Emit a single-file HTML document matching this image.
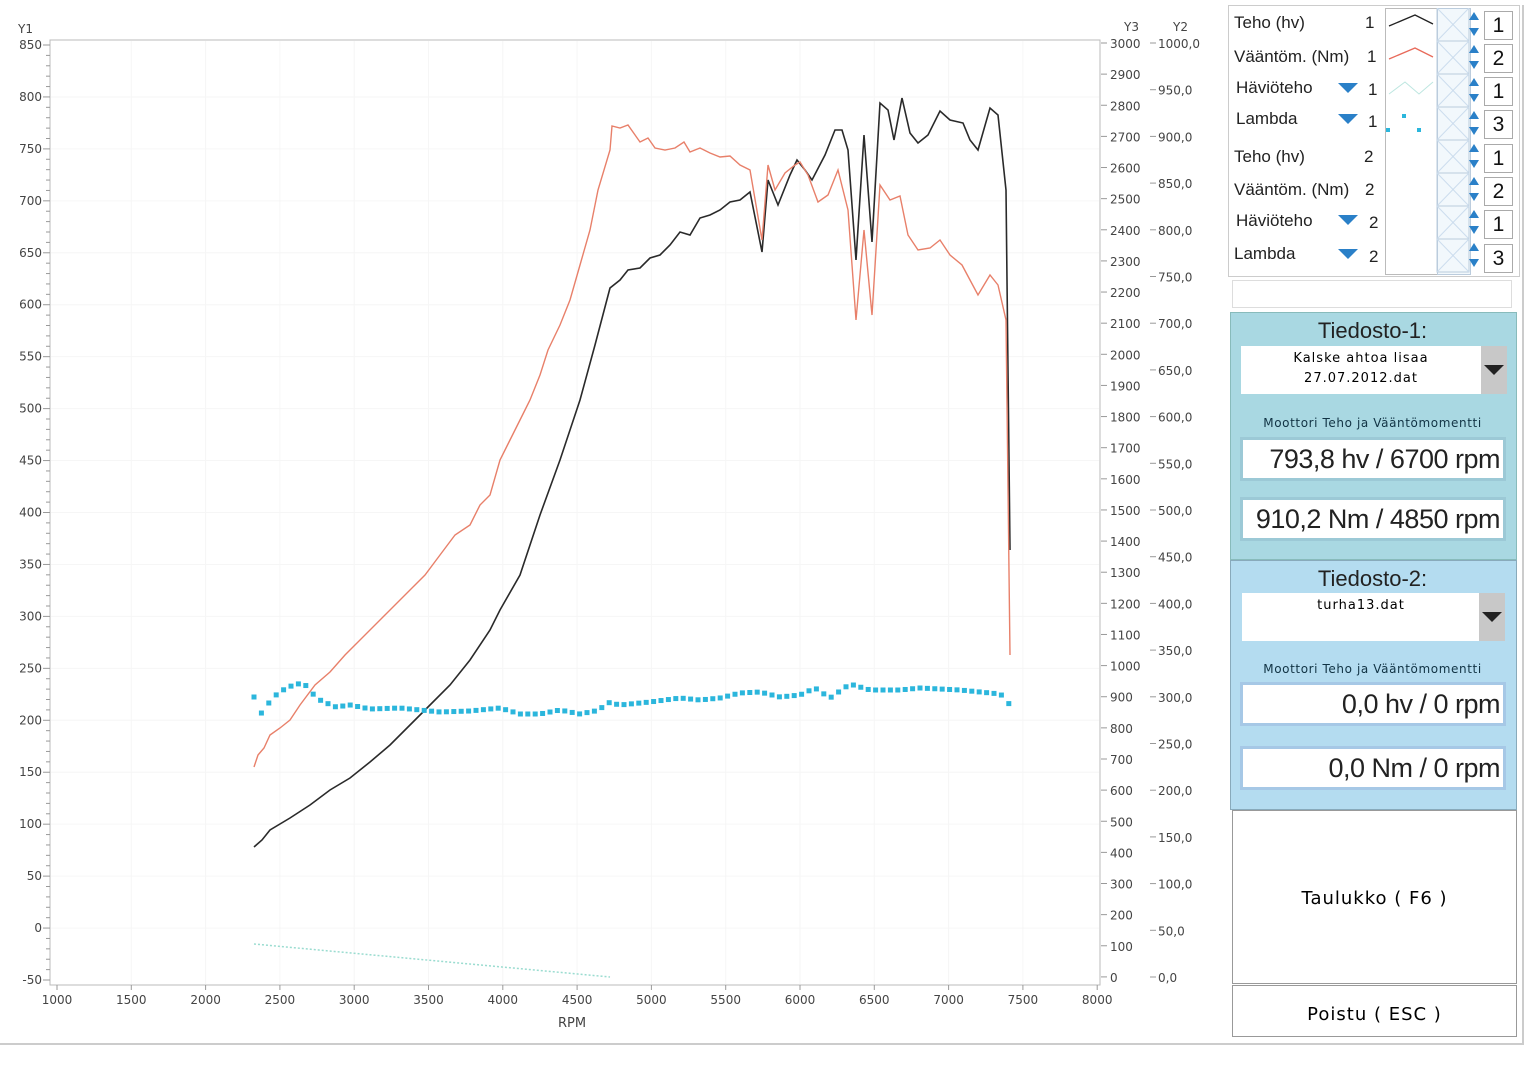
<!DOCTYPE html>
<html><head><meta charset="utf-8"><style>
body{margin:0;width:1540px;height:1080px;background:#fff;position:relative;overflow:hidden;font-family:"DejaVu Sans","Liberation Sans",sans-serif}
.a{position:absolute}
.lg{font-family:"Liberation Sans",sans-serif;font-size:17px;color:#222}
.box{position:absolute;background:#fff;border:1px solid #bbb}
.num{position:absolute;left:1484px;width:27px;height:27px;border:1px solid #aaa;background:#fff;font:21px "Liberation Sans",sans-serif;text-align:center;line-height:27px;color:#111}
.big{position:absolute;background:#fff;font:27px "Liberation Sans",sans-serif;letter-spacing:-0.5px;white-space:nowrap;overflow:hidden;text-align:right;color:#222;box-shadow:inset 0 0 0 3px #9cc9d6}
</style></head><body>
<svg class="a" style="left:0;top:0" width="1230" height="1040" id="s">
<rect x="50" y="40" width="1050" height="945" fill="#fff" stroke="#bbb"/>
<g id="g"></g>
<text x="18" y="33" font-size="12" fill="#444" font-family="DejaVu Sans">Y1</text>
<text x="1124" y="31" font-size="12" fill="#444" font-family="DejaVu Sans">Y3</text>
<text x="1173" y="31" font-size="12" fill="#444" font-family="DejaVu Sans">Y2</text>
<text x="558" y="1027" font-size="13" fill="#444" font-family="DejaVu Sans">RPM</text>
<polyline fill="none" stroke="#2a2a2a" stroke-width="1.6" points="254,847 262,840 270,830 290,818 310,805 330,790 350,778 370,762 390,745 410,725 430,705 450,685 470,660 490,630 500,610 520,575 540,515 560,460 580,400 595,345 610,288 620,280 628,270 640,268 650,258 660,255 670,245 680,232 690,235 700,218 710,215 720,210 730,202 740,200 750,192 762,252 768,180 778,205 790,175 797,160 805,170 812,180 825,155 835,130 842,130 848,150 856,260 864,135 872,242 880,103 888,110 894,140 902,98 910,133 918,143 928,135 940,111 950,120 963,123 970,140 978,150 990,108 998,115 1006,190 1010,550"/>
<polyline fill="none" stroke="#e8806a" stroke-width="1.4" points="254,767 258,755 264,748 270,735 280,728 290,720 300,705 315,685 330,672 345,655 360,640 375,625 390,610 410,590 425,575 440,555 455,535 470,525 480,505 490,495 500,460 510,440 520,420 530,400 540,375 548,350 560,325 570,300 580,265 590,230 598,190 610,150 612,126 620,128 628,125 640,142 648,138 655,148 665,150 675,148 684,142 690,152 700,148 710,153 720,157 730,156 740,165 750,170 762,240 768,165 775,190 785,173 795,165 800,162 808,175 818,202 828,195 838,170 848,210 856,320 864,230 872,315 880,185 890,200 900,196 908,235 918,250 930,248 940,240 950,255 962,265 970,280 978,295 990,275 998,285 1006,320 1010,655"/>
<g id="lam" fill="#2bb6dc"></g>
</svg>
<div class="a" style="left:1228px;top:5px;width:290px;height:270px;border:1px solid #ccc;background:#fff"></div>
<div class="a" style="left:1385px;top:8px;width:52px;height:265px;border:1px solid #bbb"></div>
<div class="a" style="left:1437px;top:8px;width:32px;height:265px;background:#f2f8fc;border:1px solid #bcd"></div>
<svg class="a" style="left:1385px;top:8px" width="100" height="265">
<polyline points="4,18 30,7 48,16" fill="none" stroke="#222" stroke-width="1.3"/>
<polyline points="4,51 30,40 48,49" fill="none" stroke="#e86a5a" stroke-width="1.3"/>
<polyline points="4,86 20,74 34,86 48,74" fill="none" stroke="#bde6e0" stroke-width="1"/>
<rect x="1" y="120" width="4" height="4" fill="#2bb6dc"/><rect x="17" y="106" width="4" height="4" fill="#2bb6dc"/><rect x="32" y="120" width="4" height="4" fill="#2bb6dc"/>
<g stroke="#cde" stroke-width="1" fill="none" id="xs"></g>
</svg>
<div class="lg a" style="left:1234px;top:13px">Teho (hv)</div><div class="lg a" style="left:1365px;top:13px">1</div>
<div class="lg a" style="left:1234px;top:47px">Vääntöm. (Nm)</div><div class="lg a" style="left:1367px;top:47px">1</div>
<div class="lg a" style="left:1236px;top:78px">Häviöteho</div><div class="lg a" style="left:1368px;top:80px">1</div>
<div class="lg a" style="left:1236px;top:109px">Lambda</div><div class="lg a" style="left:1368px;top:112px">1</div>
<div class="lg a" style="left:1234px;top:147px">Teho (hv)</div><div class="lg a" style="left:1364px;top:147px">2</div>
<div class="lg a" style="left:1234px;top:180px">Vääntöm. (Nm)</div><div class="lg a" style="left:1365px;top:180px">2</div>
<div class="lg a" style="left:1236px;top:211px">Häviöteho</div><div class="lg a" style="left:1369px;top:213px">2</div>
<div class="lg a" style="left:1234px;top:244px">Lambda</div><div class="lg a" style="left:1369px;top:247px">2</div>
<svg class="a" style="left:1336px;top:80px" width="24" height="190" fill="#2a80c8">
<polygon points="2,3 22,3 12,13"/><polygon points="2,34 22,34 12,44"/><polygon points="2,135 22,135 12,145"/><polygon points="2,169 22,169 12,179"/></svg>
<div class="num" style="top:11px">1</div><div class="num" style="top:44px">2</div><div class="num" style="top:77px">1</div><div class="num" style="top:110px">3</div>
<div class="num" style="top:144px">1</div><div class="num" style="top:177px">2</div><div class="num" style="top:210px">1</div><div class="num" style="top:244px">3</div>
<div class="box" style="left:1232px;top:280px;width:278px;height:26px;border-color:#ddd"></div>
<div class="a" style="left:1230px;top:312px;width:285px;height:246px;background:#a9d8e2;border:1px solid #8bb"></div>
<div class="a lg" style="left:1230px;top:318px;width:285px;text-align:center;font-size:22px">Tiedosto-1:</div>
<div class="box" style="left:1241px;top:346px;width:240px;height:48px;text-align:center;font-size:13px;line-height:20px;padding-top:3px;box-sizing:border-box;border:none;letter-spacing:1px">Kalske ahtoa lisaa<br>27.07.2012.dat</div>
<div class="a" style="left:1481px;top:346px;width:26px;height:48px;background:#c8c8c8"></div>
<svg class="a" style="left:1483px;top:364px" width="22" height="12"><polygon points="1,1 21,1 11,11" fill="#222"/></svg>
<div class="a" style="left:1230px;top:416px;width:285px;text-align:center;font-size:12px;color:#134;letter-spacing:.6px">Moottori Teho ja Vääntömomentti</div>
<div class="big" style="left:1240px;top:437px;width:266px;height:44px;line-height:44px;padding-right:6px;box-sizing:border-box">793,8 hv / 6700 rpm</div>
<div class="big" style="left:1240px;top:497px;width:266px;height:44px;line-height:44px;padding-right:6px;box-sizing:border-box">910,2 Nm / 4850 rpm</div>
<div class="a" style="left:1230px;top:560px;width:285px;height:248px;background:#b4dcf0;border:1px solid #8ab"></div>
<div class="a lg" style="left:1230px;top:566px;width:285px;text-align:center;font-size:22px">Tiedosto-2:</div>
<div class="box" style="left:1242px;top:593px;width:238px;height:48px;text-align:center;font-size:13px;line-height:20px;padding-top:3px;box-sizing:border-box;border:none;letter-spacing:1px">turha13.dat</div>
<div class="a" style="left:1479px;top:593px;width:26px;height:48px;background:#c8c8c8"></div>
<svg class="a" style="left:1481px;top:611px" width="22" height="12"><polygon points="1,1 21,1 11,11" fill="#222"/></svg>
<div class="a" style="left:1230px;top:662px;width:285px;text-align:center;font-size:12px;color:#134;letter-spacing:.6px">Moottori Teho ja Vääntömomentti</div>
<div class="big" style="left:1240px;top:682px;width:266px;height:44px;line-height:44px;padding-right:6px;box-sizing:border-box;box-shadow:inset 0 0 0 3px #a6c8e6">0,0 hv / 0 rpm</div>
<div class="big" style="left:1240px;top:746px;width:266px;height:44px;line-height:44px;padding-right:6px;box-sizing:border-box;box-shadow:inset 0 0 0 3px #a6c8e6">0,0 Nm / 0 rpm</div>
<div class="box" style="left:1232px;top:810px;width:283px;height:172px;border-color:#999;text-align:center;line-height:176px;font-size:18px;letter-spacing:1px">Taulukko ( F6 )</div>
<div class="box" style="left:1232px;top:985px;width:283px;height:50px;border-color:#999;text-align:center;line-height:58px;font-size:18px;letter-spacing:1px">Poistu ( ESC )</div>
<div class="a" style="left:1522px;top:5px;width:2px;height:1040px;background:#ccc"></div>
<div class="a" style="left:0;top:1043px;width:1524px;height:2px;background:#ccc"></div>
<script>
var g=document.getElementById('g'),h='';
function t(x,y,s,a){h+='<text x="'+x+'" y="'+y+'" font-size="12" fill="#444" font-family="DejaVu Sans" text-anchor="'+(a||'start')+'">'+s+'</text>';}
for(var i=0;i<=14;i++){var x=57+i*74.3;h+='<line x1="'+x+'" y1="985" x2="'+x+'" y2="990" stroke="#999"/>';t(x,1004,1000+i*500,'middle');if(i>0&&i<14)h+='<line x1="'+x+'" y1="41" x2="'+x+'" y2="984" stroke="#f6f6f6"/>';}
for(var v=850;v>=-50;v-=10){var y=45+(850-v)*1.0389;h+='<line x1="'+(v%50==0?43:46)+'" y1="'+y+'" x2="50" y2="'+y+'" stroke="#999"/>';if(v%50==0){t(42,y+4,v,'end');if(v!=850&&v!=-50)h+='<line x1="51" y1="'+y+'" x2="1099" y2="'+y+'" stroke="#f6f6f6"/>';}}
for(var v=3000;v>=0;v-=100){var y=43+(3000-v)*0.3113;h+='<line x1="1101" y1="'+y+'" x2="1107" y2="'+y+'" stroke="#999"/>';t(1110,y+5,v);}
for(var v=1000;v>=0;v-=50){var y=43+(1000-v)*0.934;h+='<line x1="1150" y1="'+y+'" x2="1156" y2="'+y+'" stroke="#999"/>';t(1158,y+5,v.toFixed(1).replace('.',','));}
h+='<line x1="254" y1="944" x2="610" y2="977" stroke="#9adcd0" stroke-width="1.5" stroke-dasharray="2,2"/>';
g.innerHTML=h;
var k=[[254,697],[258,700],[264,723],[270,698],[278,694],[286,688],[294,685],[302,683],[308,687],[316,698],[324,702],[336,707],[350,705],[370,709],[400,708],[420,710],[440,712],[470,711],[500,708],[520,714],[540,714],[560,710],[580,714],[600,710],[606,702],[620,705],[650,702],[680,698],[700,700],[720,698],[740,693],[760,692],[780,697],[800,695],[815,688],[830,698],[850,684],[870,690],[900,690],[920,688],[960,690],[980,692],[1000,694],[1008,700],[1012,718]];
var l='';for(var x=254;x<=1012;x+=7.4){for(var j=0;j<k.length-1;j++)if(x>=k[j][0]&&x<=k[j+1][0])break;if(j>=k.length-1)j=k.length-2;var f=(x-k[j][0])/(k[j+1][0]-k[j][0]),y=k[j][1]+f*(k[j+1][1]-k[j][1]);l+='<rect x="'+(x-2.5)+'" y="'+(y-2.5)+'" width="5" height="5"/>';}
document.getElementById('lam').innerHTML=l;
var xs='';for(var r=0;r<8;r++){var y0=r*33;xs+='<rect x="52" y="'+y0+'" width="32" height="33" stroke="#bcd"/><line x1="52" y1="'+y0+'" x2="84" y2="'+(y0+33)+'"/><line x1="84" y1="'+y0+'" x2="52" y2="'+(y0+33)+'"/><polygon points="84,'+(y0+12)+' 94,'+(y0+12)+' 89,'+(y0+4)+'" fill="#2a80c8" stroke="none"/><polygon points="84,'+(y0+20)+' 94,'+(y0+20)+' 89,'+(y0+28)+'" fill="#2a80c8" stroke="none"/>';}
document.getElementById('xs').innerHTML=xs;
</script>
</body></html>
